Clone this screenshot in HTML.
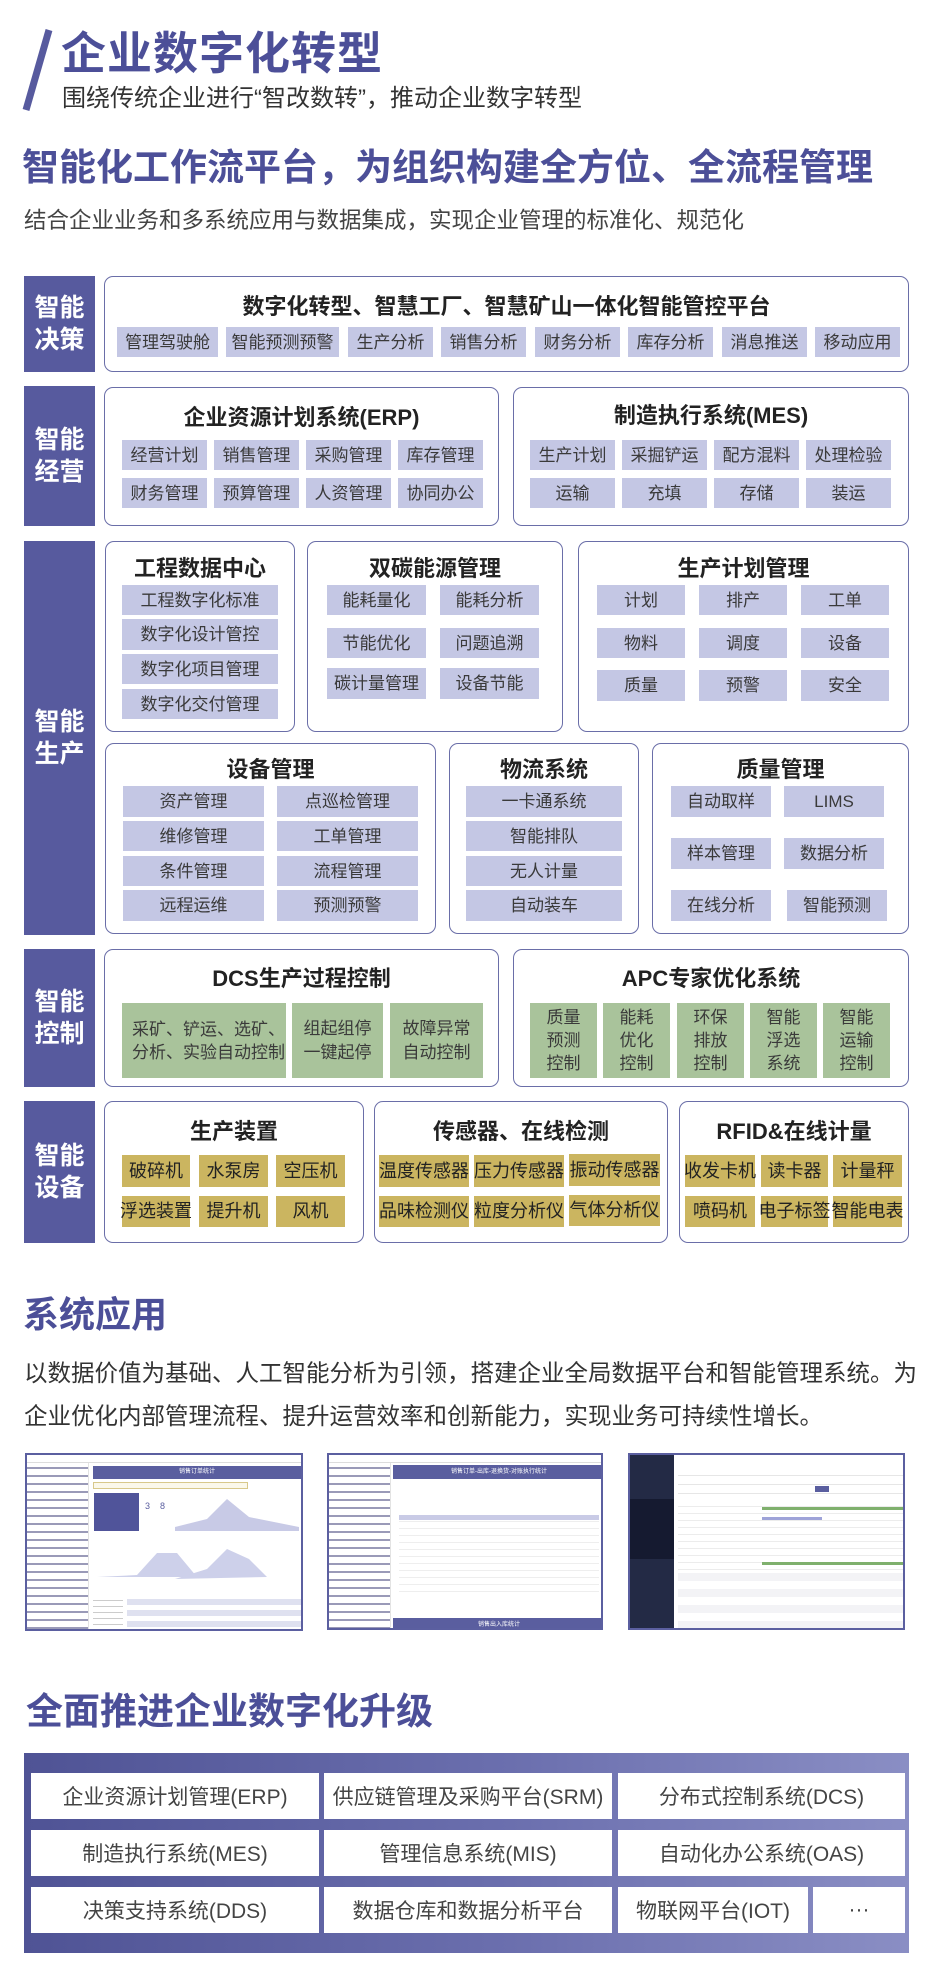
<!DOCTYPE html>
<html><head><meta charset="utf-8">
<style>
*{margin:0;padding:0;box-sizing:border-box}
body{width:927px;height:1978px;background:#fff;position:relative;overflow:hidden;font-family:"Liberation Sans","Noto Sans CJK SC",sans-serif;color:#333}
.a{position:absolute}
.lab{position:absolute;left:24px;width:71px;background:#575a9e;color:#fff;font-weight:bold;font-size:25px;line-height:32px;display:flex;align-items:center;justify-content:center;text-align:center}
.box{position:absolute;border:1.5px solid #6a6ea8;border-radius:9px;background:#fff}
.t{position:absolute;font-weight:bold;font-size:22px;color:#222;text-align:center;white-space:nowrap}
.c{position:absolute;background:#c4c7e4;font-size:17px;color:#3a3a3a;display:flex;align-items:center;justify-content:center;white-space:nowrap;text-align:center;line-height:21px}
.g{background:#a9c39b}
.y{background:#cbb560;color:#222;font-size:18px}
.cell{position:absolute;background:#fff;font-size:21px;color:#444;display:flex;align-items:center;justify-content:center;white-space:nowrap}
.ss{position:absolute;border:2px solid #5b5fa0;background:#fff;overflow:hidden}
</style></head><body>

<!-- header -->
<svg class="a" style="left:20px;top:28px" width="34" height="86"><line x1="29" y1="2" x2="6" y2="82" stroke="#575a9e" stroke-width="7"/></svg>
<div class="a" style="left:61px;top:28px;font-size:45px;font-weight:bold;color:#4c4f98;line-height:52px;letter-spacing:1px">企业数字化转型</div>
<div class="a" style="left:62px;top:85px;font-size:24px;color:#333;line-height:28px">围绕传统企业进行“智改数转”，推动企业数字转型</div>
<div class="a" style="left:22px;top:146px;font-size:37px;font-weight:bold;color:#4c4f98;line-height:44px;white-space:nowrap">智能化工作流平台，为组织构建全方位、全流程管理</div>
<div class="a" style="left:24px;top:207px;font-size:22.5px;color:#444;line-height:28px;white-space:nowrap">结合企业业务和多系统应用与数据集成，实现企业管理的标准化、规范化</div>

<!-- 智能决策 -->
<div class="lab" style="top:276px;height:96px">智能<br>决策</div>
<div class="box" style="left:104px;top:276px;width:805px;height:96px"></div>
<div class="t" style="left:104px;width:805px;top:289px">数字化转型、智慧工厂、智慧矿山一体化智能管控平台</div>
<div class="c" style="left:117px;top:327px;width:101px;height:30px">管理驾驶舱</div>
<div class="c" style="left:226px;top:327px;width:113px;height:30px">智能预测预警</div>
<div class="c" style="left:348px;top:327px;width:85px;height:30px">生产分析</div>
<div class="c" style="left:441px;top:327px;width:85px;height:30px">销售分析</div>
<div class="c" style="left:535px;top:327px;width:85px;height:30px">财务分析</div>
<div class="c" style="left:628px;top:327px;width:85px;height:30px">库存分析</div>
<div class="c" style="left:722px;top:327px;width:85px;height:30px">消息推送</div>
<div class="c" style="left:815px;top:327px;width:85px;height:30px">移动应用</div>

<!-- 智能经营 -->
<div class="lab" style="top:386px;height:140px">智能<br>经营</div>
<div class="box" style="left:104px;top:387px;width:395px;height:139px"></div>
<div class="t" style="left:104px;width:395px;top:400px">企业资源计划系统(ERP)</div>
<div class="c" style="left:122px;top:440px;width:85px;height:30px">经营计划</div>
<div class="c" style="left:214px;top:440px;width:85px;height:30px">销售管理</div>
<div class="c" style="left:306px;top:440px;width:85px;height:30px">采购管理</div>
<div class="c" style="left:398px;top:440px;width:85px;height:30px">库存管理</div>
<div class="c" style="left:122px;top:478px;width:85px;height:30px">财务管理</div>
<div class="c" style="left:214px;top:478px;width:85px;height:30px">预算管理</div>
<div class="c" style="left:306px;top:478px;width:85px;height:30px">人资管理</div>
<div class="c" style="left:398px;top:478px;width:85px;height:30px">协同办公</div>
<div class="box" style="left:513px;top:387px;width:396px;height:139px"></div>
<div class="t" style="left:513px;width:396px;top:398px">制造执行系统(MES)</div>
<div class="c" style="left:530px;top:440px;width:85px;height:30px">生产计划</div>
<div class="c" style="left:622px;top:440px;width:85px;height:30px">采掘铲运</div>
<div class="c" style="left:714px;top:440px;width:85px;height:30px">配方混料</div>
<div class="c" style="left:806px;top:440px;width:85px;height:30px">处理检验</div>
<div class="c" style="left:530px;top:478px;width:85px;height:30px">运输</div>
<div class="c" style="left:622px;top:478px;width:85px;height:30px">充填</div>
<div class="c" style="left:714px;top:478px;width:85px;height:30px">存储</div>
<div class="c" style="left:806px;top:478px;width:85px;height:30px">装运</div>

<!-- 智能生产 -->
<div class="lab" style="top:541px;height:394px">智能<br>生产</div>
<div class="box" style="left:105px;top:541px;width:190px;height:191px"></div>
<div class="t" style="left:105px;width:190px;top:551px">工程数据中心</div>
<div class="c" style="left:122px;top:585px;width:156px;height:30px">工程数字化标准</div>
<div class="c" style="left:122px;top:619px;width:156px;height:31px">数字化设计管控</div>
<div class="c" style="left:122px;top:654px;width:156px;height:30px">数字化项目管理</div>
<div class="c" style="left:122px;top:689px;width:156px;height:30px">数字化交付管理</div>

<div class="box" style="left:307px;top:541px;width:256px;height:191px"></div>
<div class="t" style="left:307px;width:256px;top:551px">双碳能源管理</div>
<div class="c" style="left:327px;top:585px;width:99px;height:30px">能耗量化</div>
<div class="c" style="left:440px;top:585px;width:99px;height:30px">能耗分析</div>
<div class="c" style="left:327px;top:628px;width:99px;height:30px">节能优化</div>
<div class="c" style="left:440px;top:628px;width:99px;height:30px">问题追溯</div>
<div class="c" style="left:327px;top:668px;width:99px;height:31px">碳计量管理</div>
<div class="c" style="left:440px;top:668px;width:99px;height:31px">设备节能</div>

<div class="box" style="left:578px;top:541px;width:331px;height:191px"></div>
<div class="t" style="left:578px;width:331px;top:551px">生产计划管理</div>
<div class="c" style="left:597px;top:585px;width:88px;height:30px">计划</div>
<div class="c" style="left:699px;top:585px;width:88px;height:30px">排产</div>
<div class="c" style="left:801px;top:585px;width:88px;height:30px">工单</div>
<div class="c" style="left:597px;top:628px;width:88px;height:30px">物料</div>
<div class="c" style="left:699px;top:628px;width:88px;height:30px">调度</div>
<div class="c" style="left:801px;top:628px;width:88px;height:30px">设备</div>
<div class="c" style="left:597px;top:670px;width:88px;height:31px">质量</div>
<div class="c" style="left:699px;top:670px;width:88px;height:31px">预警</div>
<div class="c" style="left:801px;top:670px;width:88px;height:31px">安全</div>

<div class="box" style="left:105px;top:743px;width:331px;height:191px"></div>
<div class="t" style="left:105px;width:331px;top:752px">设备管理</div>
<div class="c" style="left:123px;top:786px;width:141px;height:31px">资产管理</div>
<div class="c" style="left:277px;top:786px;width:141px;height:31px">点巡检管理</div>
<div class="c" style="left:123px;top:821px;width:141px;height:30px">维修管理</div>
<div class="c" style="left:277px;top:821px;width:141px;height:30px">工单管理</div>
<div class="c" style="left:123px;top:856px;width:141px;height:30px">条件管理</div>
<div class="c" style="left:277px;top:856px;width:141px;height:30px">流程管理</div>
<div class="c" style="left:123px;top:890px;width:141px;height:31px">远程运维</div>
<div class="c" style="left:277px;top:890px;width:141px;height:31px">预测预警</div>

<div class="box" style="left:449px;top:743px;width:190px;height:191px"></div>
<div class="t" style="left:449px;width:190px;top:752px">物流系统</div>
<div class="c" style="left:466px;top:786px;width:156px;height:31px">一卡通系统</div>
<div class="c" style="left:466px;top:821px;width:156px;height:30px">智能排队</div>
<div class="c" style="left:466px;top:856px;width:156px;height:30px">无人计量</div>
<div class="c" style="left:466px;top:890px;width:156px;height:31px">自动装车</div>

<div class="box" style="left:652px;top:743px;width:257px;height:191px"></div>
<div class="t" style="left:652px;width:257px;top:752px">质量管理</div>
<div class="c" style="left:671px;top:786px;width:100px;height:31px">自动取样</div>
<div class="c" style="left:784px;top:786px;width:100px;height:31px">LIMS</div>
<div class="c" style="left:671px;top:838px;width:100px;height:31px">样本管理</div>
<div class="c" style="left:784px;top:838px;width:100px;height:31px">数据分析</div>
<div class="c" style="left:671px;top:890px;width:100px;height:31px">在线分析</div>
<div class="c" style="left:787px;top:890px;width:100px;height:31px">智能预测</div>

<!-- 智能控制 -->
<div class="lab" style="top:949px;height:138px">智能<br>控制</div>
<div class="box" style="left:104px;top:949px;width:395px;height:138px"></div>
<div class="t" style="left:104px;width:395px;top:961px">DCS生产过程控制</div>
<div class="c g" style="left:122px;top:1003px;width:164px;height:75px;justify-content:flex-start;text-align:left;padding-left:10px;white-space:normal;line-height:23px">采矿、铲运、选矿、分析、实验自动控制</div>
<div class="c g" style="left:292px;top:1003px;width:91px;height:75px;white-space:normal;line-height:24px">组起组停<br>一键起停</div>
<div class="c g" style="left:390px;top:1003px;width:93px;height:75px;white-space:normal;line-height:24px">故障异常<br>自动控制</div>
<div class="box" style="left:513px;top:949px;width:396px;height:138px"></div>
<div class="t" style="left:513px;width:396px;top:961px">APC专家优化系统</div>
<div class="c g" style="left:530px;top:1003px;width:67px;height:75px;line-height:23px">质量<br>预测<br>控制</div>
<div class="c g" style="left:603px;top:1003px;width:67px;height:75px;line-height:23px">能耗<br>优化<br>控制</div>
<div class="c g" style="left:677px;top:1003px;width:67px;height:75px;line-height:23px">环保<br>排放<br>控制</div>
<div class="c g" style="left:750px;top:1003px;width:67px;height:75px;line-height:23px">智能<br>浮选<br>系统</div>
<div class="c g" style="left:823px;top:1003px;width:67px;height:75px;line-height:23px">智能<br>运输<br>控制</div>

<!-- 智能设备 -->
<div class="lab" style="top:1101px;height:142px">智能<br>设备</div>
<div class="box" style="left:104px;top:1101px;width:260px;height:142px"></div>
<div class="t" style="left:104px;width:260px;top:1114px">生产装置</div>
<div class="c y" style="left:122px;top:1155px;width:68px;height:32px">破碎机</div>
<div class="c y" style="left:199px;top:1155px;width:69px;height:32px">水泵房</div>
<div class="c y" style="left:276px;top:1155px;width:69px;height:32px">空压机</div>
<div class="c y" style="left:122px;top:1196px;width:68px;height:31px">浮选装置</div>
<div class="c y" style="left:199px;top:1196px;width:69px;height:31px">提升机</div>
<div class="c y" style="left:276px;top:1196px;width:69px;height:31px">风机</div>

<div class="box" style="left:374px;top:1101px;width:294px;height:142px"></div>
<div class="t" style="left:374px;width:294px;top:1114px">传感器、在线检测</div>
<div class="c y" style="left:379px;top:1155px;width:90px;height:32px">温度传感器</div>
<div class="c y" style="left:474px;top:1155px;width:90px;height:32px">压力传感器</div>
<div class="c y" style="left:569px;top:1154px;width:91px;height:32px">振动传感器</div>
<div class="c y" style="left:379px;top:1196px;width:90px;height:31px">品味检测仪</div>
<div class="c y" style="left:474px;top:1196px;width:90px;height:31px">粒度分析仪</div>
<div class="c y" style="left:569px;top:1195px;width:91px;height:31px">气体分析仪</div>

<div class="box" style="left:679px;top:1101px;width:230px;height:142px"></div>
<div class="t" style="left:679px;width:230px;top:1114px">RFID&amp;在线计量</div>
<div class="c y" style="left:685px;top:1155px;width:70px;height:32px">收发卡机</div>
<div class="c y" style="left:761px;top:1155px;width:67px;height:32px">读卡器</div>
<div class="c y" style="left:833px;top:1155px;width:69px;height:32px">计量秤</div>
<div class="c y" style="left:685px;top:1196px;width:70px;height:31px">喷码机</div>
<div class="c y" style="left:761px;top:1196px;width:67px;height:31px">电子标签</div>
<div class="c y" style="left:833px;top:1196px;width:69px;height:31px">智能电表</div>

<!-- 系统应用 -->
<div class="a" style="left:23px;top:1294px;font-size:36px;font-weight:bold;color:#4c4f98;line-height:42px">系统应用</div>
<div class="a" style="left:24px;top:1352px;font-size:23.5px;color:#333;line-height:43px;white-space:nowrap">以数据价值为基础、人工智能分析为引领，搭建企业全局数据平台和智能管理系统。为<br>企业优化内部管理流程、提升运营效率和创新能力，实现业务可持续性增长。</div>

<!-- screenshot 1 -->
<div class="ss" style="left:25px;top:1453px;width:278px;height:178px">
 <div class="a" style="left:0;top:0;width:278px;height:8px;border-bottom:1px solid #ddd"></div>
 <div class="a" style="left:0;top:8px;width:62px;height:170px;border-right:1px solid #e3e3e3;background:repeating-linear-gradient(#fff 0 4px,#9a9ab8 4px 6px,#fff 6px 8px)"></div>
 <div class="a" style="left:66px;top:11px;width:208px;height:13px;background:#5a5e9f;color:#fff;font-size:6px;text-align:center;line-height:13px">销售订单统计</div>
 <div class="a" style="left:66px;top:27px;width:155px;height:7px;border:1px solid #d8c88a;background:#fbf8ea"></div>
 <div class="a" style="left:67px;top:38px;width:45px;height:38px;background:#50549a"></div>
 <div class="a" style="left:118px;top:46px;font-size:9px;color:#5a5e9f">3&nbsp;&nbsp;&nbsp;&nbsp;8</div>
 <svg class="a" style="left:0;top:0" width="278" height="178"><path d="M148 72 L180 64 L200 44 L222 62 L272 72 L272 76 L148 76Z" fill="#c8cae6"/><path d="M70 122 L110 120 L130 98 L150 98 L170 122Z" fill="#cdd0ea"/><path d="M148 124 L180 114 L200 94 L222 104 L240 122 L148 124Z" fill="#cdd0ea"/></svg>
 <div class="a" style="left:66px;top:140px;width:30px;height:36px;background:repeating-linear-gradient(#fff 0 5px,#ccc 5px 6px)"></div>
 <div class="a" style="left:100px;top:144px;width:174px;height:32px;background:repeating-linear-gradient(#dfe1f0 0 6px,#fff 6px 11px)"></div>
</div>
<!-- screenshot 2 -->
<div class="ss" style="left:327px;top:1453px;width:276px;height:177px">
 <div class="a" style="left:0;top:0;width:276px;height:8px;border-bottom:1px solid #ddd"></div>
 <div class="a" style="left:0;top:8px;width:62px;height:169px;border-right:1px solid #e3e3e3;background:repeating-linear-gradient(#fff 0 4px,#9a9ab8 4px 6px,#fff 6px 8px)"></div>
 <div class="a" style="left:64px;top:10px;width:212px;height:14px;background:#5a5e9f;color:#fff;font-size:6px;text-align:center;line-height:14px">销售订单-出库-退换货-对账执行统计</div>
 <div class="a" style="left:70px;top:60px;width:200px;height:80px;background:repeating-linear-gradient(#fff 0 6px,#eee 6px 7px)"></div>
 <div class="a" style="left:70px;top:60px;width:200px;height:5px;background:#c9cbe6"></div>
 <div class="a" style="left:64px;top:163px;width:212px;height:14px;background:#5a5e9f;color:#fff;font-size:6px;text-align:center;line-height:14px">销售出入库统计</div>
</div>
<!-- screenshot 3 -->
<div class="ss" style="left:628px;top:1453px;width:277px;height:177px">
 <div class="a" style="left:0;top:0;width:44px;height:177px;background:#232a45"></div>
 <div class="a" style="left:0;top:44px;width:44px;height:60px;background:#151a30"></div>
 <div class="a" style="left:48px;top:12px;width:225px;height:30px;background:repeating-linear-gradient(#fff 0 8px,#e6e6e6 8px 9px)"></div>
 <div class="a" style="left:185px;top:31px;width:14px;height:6px;background:#5a5e9f"></div>
 <div class="a" style="left:48px;top:45px;width:225px;height:70px;background:repeating-linear-gradient(#fff 0 6px,#ececec 6px 7px)"></div>
 <div class="a" style="left:132px;top:52px;width:145px;height:3px;background:#7fb06d"></div>
 <div class="a" style="left:132px;top:62px;width:60px;height:3px;background:#9ea3d8"></div>
 <div class="a" style="left:132px;top:107px;width:145px;height:3px;background:#7fb06d"></div>
 <div class="a" style="left:48px;top:118px;width:225px;height:58px;background:repeating-linear-gradient(#f3f3f6 0 8px,#fff 8px 16px)"></div>
</div>

<!-- 全面推进 -->
<div class="a" style="left:26px;top:1690px;font-size:37px;font-weight:bold;color:#4c4f98;line-height:44px;white-space:nowrap">全面推进企业数字化升级</div>
<div class="a" style="left:24px;top:1753px;width:885px;height:200px;background:linear-gradient(90deg,#4f5395,#6b6fae 55%,#8a8ec4)"></div>
<div class="cell" style="left:31px;top:1773px;width:288px;height:46px">企业资源计划管理(ERP)</div>
<div class="cell" style="left:324px;top:1773px;width:288px;height:46px">供应链管理及采购平台(SRM)</div>
<div class="cell" style="left:618px;top:1773px;width:287px;height:46px">分布式控制系统(DCS)</div>
<div class="cell" style="left:31px;top:1830px;width:288px;height:46px">制造执行系统(MES)</div>
<div class="cell" style="left:324px;top:1830px;width:288px;height:46px">管理信息系统(MIS)</div>
<div class="cell" style="left:618px;top:1830px;width:287px;height:46px">自动化办公系统(OAS)</div>
<div class="cell" style="left:31px;top:1887px;width:288px;height:46px">决策支持系统(DDS)</div>
<div class="cell" style="left:324px;top:1887px;width:288px;height:46px">数据仓库和数据分析平台</div>
<div class="cell" style="left:618px;top:1887px;width:190px;height:46px">物联网平台(IOT)</div>
<div class="cell" style="left:813px;top:1887px;width:92px;height:46px">···</div>
</body></html>
